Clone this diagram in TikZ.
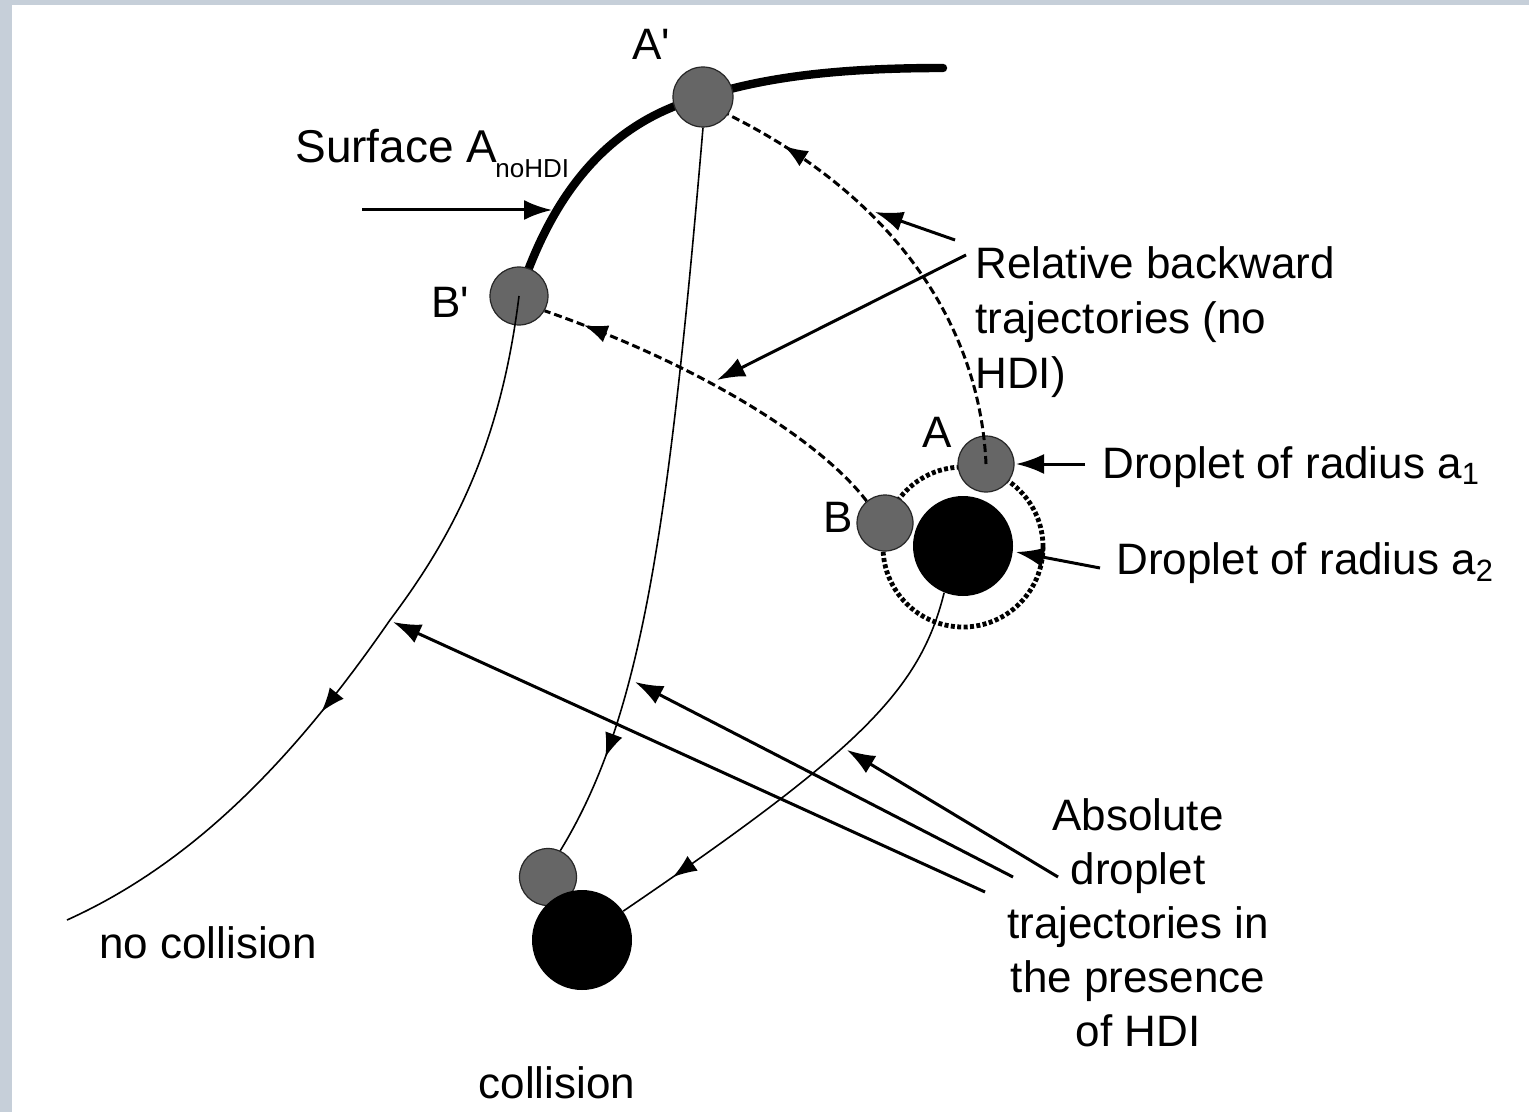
\documentclass[tikz,border=0pt]{standalone}
\usepackage{fontspec}
\setmainfont{Liberation Sans}
\usetikzlibrary{arrows.meta,decorations.markings}
\definecolor{dropgray}{RGB}{102,102,102}
\definecolor{bgedge}{RGB}{198,207,217}
\begin{document}
\begin{tikzpicture}[x=0.5pt,y=-0.5pt,
  lbl/.style={font=\fontsize{22}{27.5}\selectfont, inner sep=0pt},
  smalldrop/.style={circle, fill=dropgray, draw=black!85, line width=0.6pt, minimum size=#1, inner sep=0pt},
  bigdrop/.style={circle, fill=black, minimum size=50pt, inner sep=0pt},
  surf/.style={line width=4.2pt, line cap=round},
  reltraj/.style={line width=1.5pt, dash pattern=on 4pt off 2pt},
  abstraj/.style={line width=0.8pt},
  ptr/.style={line width=1.5pt, -{Latex[length=14pt,width=10pt]}},
  midarrow/.style={postaction={decorate, decoration={markings, mark=at position #1 with {\arrow{Latex[length=12pt,width=9pt]}}}}},
]
% background and frame
\fill[bgedge] (0,0) rectangle (1529,1112);
\fill[white] (12,5) rectangle (1529,1112);
\useasboundingbox (0,0) rectangle (1529,1112);

% centres
\coordinate (pAp) at (703,97);
\coordinate (pBp) at (519,296);
\coordinate (sEnd) at (943,68);

% surface A_noHDI
\draw[surf] (pBp) .. controls (555,185) and (615,120) .. (pAp)
            .. controls (770,75) and (850,68) .. (sEnd);

% dotted ring around the large droplet
\node[circle, draw, line width=2.4pt, dash pattern=on 2pt off 1.2pt, minimum size=80pt, inner sep=0pt] (ring) at (963,547) {};

% droplets
\node[smalldrop=28pt] (B) at (885,523) {};
\node[bigdrop] (Big) at (963,546) {};
\node[smalldrop=28pt] (A) at (986,464) {};
\node[smalldrop=30pt] (Ap) at (pAp) {};
\node[smalldrop=29pt] (Bp) at (pBp) {};
\node[smalldrop=28.5pt] (Cg) at (548,877) {};
\node[bigdrop] (Cb) at (582,940) {};

% relative backward trajectories (dashed)
\draw[reltraj, midarrow=0.86] (A.center) .. controls (980,330) and (900,200) .. (Ap.-35);
\draw[reltraj, midarrow=0.89] (B.130) .. controls (820,440) and (700,365) .. (Bp.-30);

% absolute trajectories (thin)
\coordinate (nc) at (67,920);
\draw[abstraj, midarrow=0.86] (Ap.south) .. controls (668,540) and (640,720) .. (Cg.65);
\draw[abstraj, midarrow=0.585] (Bp.center) .. controls (500,450) and (450,540) .. (390,620)
      .. controls (300,750) and (200,860) .. (nc);
\draw[abstraj, midarrow=0.87] (Big.248) .. controls (920,690) and (860,750) .. (Cb.35);

% labels
\node[lbl, anchor=base] (tAp) at (651,60) {A\textquotesingle};
\node[lbl, anchor=base] (tBp) at (450,318) {B\textquotesingle};
\node[lbl, anchor=base] (tA) at (937,447) {A};
\node[lbl, anchor=base] (tB) at (838,532) {B};
\node[lbl, anchor=base west, font=\fontsize{23}{28}\selectfont] (tSurf) at (295,163) {Surface A\kern-1pt\raisebox{-7.5pt}{\fontsize{13}{13}\selectfont noHDI}};
\node[lbl, anchor=north west, align=left] (tRel) at (975,246) {Relative backward\\trajectories (no\\HDI)};
\node[lbl, anchor=base west] (tA1) at (1102,478) {Droplet of radius a\textsubscript{1}};
\node[lbl, anchor=base west] (tA2) at (1116,574) {Droplet of radius a\textsubscript{2}};
\node[lbl, anchor=north, align=center, font=\fontsize{22}{27}\selectfont] (tAbs) at (1138,798) {Absolute\\droplet\\trajectories in\\the presence\\of HDI};
\node[lbl, anchor=base] (tNo) at (208,958) {no collision};
\node[lbl, anchor=base] (tCol) at (557,1098) {collision};

% pointer arrows
\coordinate (s1) at (362,210);  \coordinate (t1) at (552,210);
\coordinate (s2) at (955,240);  \coordinate (t2) at (875,212);
\coordinate (s3) at (966,255);  \coordinate (t3) at (717,380);
\coordinate (s4) at (1085,464); \coordinate (t4) at (1016,464);
\coordinate (s5) at (1100,568); \coordinate (t5) at (1016,552);
\coordinate (s6) at (1058,877); \coordinate (t6) at (847,750);
\coordinate (s7) at (1013,877); \coordinate (t7) at (635,682);
\coordinate (s8) at (985,892);  \coordinate (t8) at (393,622);
\draw[ptr] (s1) -- (t1);
\draw[ptr] (s2) -- (t2);
\draw[ptr] (s3) -- (t3);
\draw[ptr] (s4) -- (t4);
\draw[ptr] (s5) -- (t5);
\draw[ptr] (s6) -- (t6);
\draw[ptr] (s7) -- (t7);
\draw[ptr] (s8) -- (t8);
\end{tikzpicture}
\end{document}
